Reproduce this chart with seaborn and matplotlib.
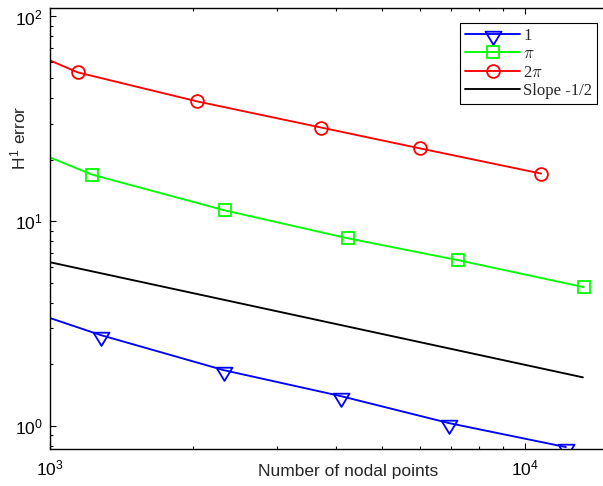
import numpy as np
import matplotlib
matplotlib.use("Agg")
import matplotlib.pyplot as plt
import seaborn as sns
from matplotlib.path import Path

# ---- data ----
x_one = [1000, 1280, 2323, 4100, 6920, 12190]
y_one = [3.37, 2.78, 1.875, 1.40, 1.034, 0.79]

x_pi = [1000, 1226, 2335, 4236, 7228, 13300]
y_pi = [20.5, 16.9, 11.3, 8.26, 6.46, 4.77]

x_2pi = [1000, 1145, 2040, 3720, 6010, 10810]
y_2pi = [61.0, 53.3, 38.5, 28.7, 22.7, 17.1]

x_slope = [1000, 13240]
y_slope = [6.31, 1.73]

labels = ["1", r"$\pi$", r"2$\pi$", "Slope -1/2"]
xlabel = "Number of nodal points"
ylabel = r"H$^\mathdefault{1}$ error"

sns.set_style("ticks")
plt.rcParams["font.family"] = ["Liberation Sans", "DejaVu Sans"]
plt.rcParams["mathtext.fontset"] = "cm"

W, H = 603, 486
fig = plt.figure(figsize=(W / 100, H / 100), dpi=100)
# axes extends past the right edge of the (cropped) reference
ax = fig.add_axes([50 / W, (H - 449) / H, 596 / W, 441 / H])

# MATLAB-style down triangle (data point near the top of the marker)
tri = Path([(-1, 0.35), (1, 0.35), (0, -1.3), (-1, 0.35)],
           [Path.MOVETO, Path.LINETO, Path.LINETO, Path.CLOSEPOLY])

lw = 1.35
sns.lineplot(x=x_one, y=y_one, ax=ax, estimator=None, sort=False,
             color=(0, 0, 1), lw=lw, marker=tri, markersize=15,
             markevery=list(range(1, len(x_one))),
             markerfacecolor="none", markeredgecolor=(0, 0, 1),
             markeredgewidth=1.3, label=labels[0])
sns.lineplot(x=x_pi, y=y_pi, ax=ax, estimator=None, sort=False,
             color=(0, 1, 0), lw=lw, marker="s", markersize=8,
             markevery=list(range(1, len(x_pi))),
             markerfacecolor="none", markeredgecolor=(0, 1, 0),
             markeredgewidth=1.3, label=labels[1])
sns.lineplot(x=x_2pi, y=y_2pi, ax=ax, estimator=None, sort=False,
             color=(1, 0, 0), lw=lw, marker="o", markersize=9.2,
             markevery=list(range(1, len(x_2pi))),
             markerfacecolor="none", markeredgecolor=(1, 0, 0),
             markeredgewidth=1.3, label=labels[2])
sns.lineplot(x=x_slope, y=y_slope, ax=ax, estimator=None, sort=False,
             color="black", lw=lw, label=labels[3])

ax.set_xscale("log")
ax.set_yscale("log")
ax.set_xlim(1000, 10 ** (3 + 596 / 475))
ax.set_ylim(0.773, 110)

ax.tick_params(which="both", direction="in", top=True, right=True,
               colors="black", labelsize=12.5)
ax.tick_params(which="major", length=4.5, width=0.8)
ax.tick_params(which="minor", length=2.5, width=0.8)
ax.tick_params(axis="x", pad=7)
ax.tick_params(axis="y", pad=5)
for s in ax.spines.values():
    s.set_linewidth(1.0)
    s.set_color("black")

ax.set_xlabel(xlabel, fontsize=12.5)
ax.set_ylabel(ylabel, fontsize=12.5)
ax.xaxis.set_label_coords(0.5, -0.034)
ax.yaxis.set_label_coords(-0.034, (449 - 138) / 441)

leg = ax.legend(loc="upper right", bbox_to_anchor=(597 / W, (H - 23) / H),
                bbox_transform=fig.transFigure, borderaxespad=0,
                prop={"family": "Liberation Serif", "size": 12},
                handlelength=3.3, handletextpad=0.2, labelspacing=0.15,
                borderpad=0.28, fancybox=False, framealpha=1)
leg.get_frame().set_edgecolor("black")
leg.get_frame().set_linewidth(0.8)

fig.savefig("out.png", dpi=100)
